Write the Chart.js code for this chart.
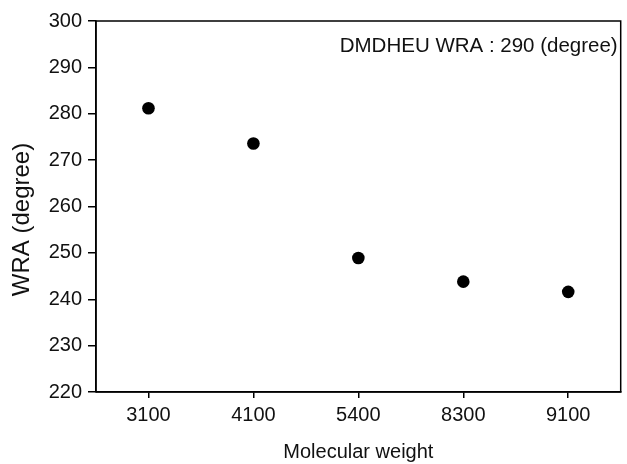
<!DOCTYPE html>
<html>
<head>
<meta charset="utf-8">
<script src="https://cdn.jsdelivr.net/npm/chart.js@4/dist/chart.umd.min.js"></script>
<style>
html,body{margin:0;padding:0;background:#fff;}
#wrap{width:627px;height:464px;}
</style>
</head>
<body>
<div id="wrap"><canvas id="c" width="627" height="464"></canvas></div>
<script>
const categories = ["3100", "4100", "5400", "8300", "9100"];
const wraValues = [281.2, 273.6, 248.9, 243.8, 241.6];
const yTicks = [220, 230, 240, 250, 260, 270, 280, 290, 300];
const annotationText = "DMDHEU WRA : 290 (degree)";
const xTitle = "Molecular weight";
const yTitle = "WRA (degree)";

const FONT = "'Liberation Sans', Arial, sans-serif";

const framePlugin = {
  id: 'frame',
  afterDraw(chart) {
    const {ctx, chartArea: a} = chart;
    ctx.save();
    ctx.strokeStyle = '#000';
    ctx.lineWidth = 1.5;
    ctx.beginPath();
    ctx.moveTo(a.left, a.bottom);
    ctx.lineTo(a.left, a.top);
    ctx.lineTo(a.right, a.top);
    ctx.lineTo(a.right, a.bottom);
    ctx.lineTo(a.left, a.bottom);
    ctx.stroke();
    ctx.fillStyle = '#111';
    ctx.font = "20.5px " + FONT;
    ctx.textAlign = 'right';
    ctx.textBaseline = 'alphabetic';
    ctx.fillText(annotationText, a.right - 3, a.top + 31);
    // y axis title, positioned like the reference (slightly below centre)
    ctx.translate(22, (a.top + a.bottom) / 2 + 13);
    ctx.rotate(-Math.PI / 2);
    ctx.font = "24px " + FONT;
    ctx.textAlign = 'center';
    ctx.textBaseline = 'middle';
    ctx.fillText(yTitle, 0, 0);
    ctx.restore();
  }
};

new Chart(document.getElementById('c'), {
  type: 'line',
  data: {
    labels: categories,
    datasets: [{
      data: wraValues,
      showLine: false,
      pointRadius: 6.3,
      pointHoverRadius: 6.3,
      pointBackgroundColor: '#000',
      pointBorderColor: '#000',
      pointBorderWidth: 0
    }]
  },
  options: {
    responsive: false,
    animation: false,
    events: [],
    layout: {padding: {top: 21, right: 5, left: 0, bottom: 0}},
    plugins: {legend: {display: false}, tooltip: {enabled: false}},
    scales: {
      x: {
        type: 'category',
        offset: true,
        grid: {display: true, drawOnChartArea: false, drawTicks: true, tickLength: 6, color: '#000', lineWidth: 1.5, offset: false},
        border: {display: true, color: '#000', width: 1.5},
        ticks: {color: '#111', font: {family: FONT, size: 20}, padding: 5, maxRotation: 0},
        title: {display: true, text: xTitle, color: '#111', font: {family: FONT, size: 20}, padding: {top: 7, bottom: 0}},
        afterFit(s) { s.height = 72; }
      },
      y: {
        min: 220,
        max: 300,
        afterBuildTicks(s) { s.ticks = yTicks.map(v => ({value: v})); },
        grid: {display: true, drawOnChartArea: false, drawTicks: true, tickLength: 8, color: '#000', lineWidth: 1.5},
        border: {display: true, color: '#000', width: 1.5},
        ticks: {color: '#111', font: {family: FONT, size: 20}, padding: 6},
        title: {display: false, text: yTitle},
        afterFit(s) { s.width = 96; }
      }
    }
  },
  plugins: [framePlugin]
});
</script>
</body>
</html>
